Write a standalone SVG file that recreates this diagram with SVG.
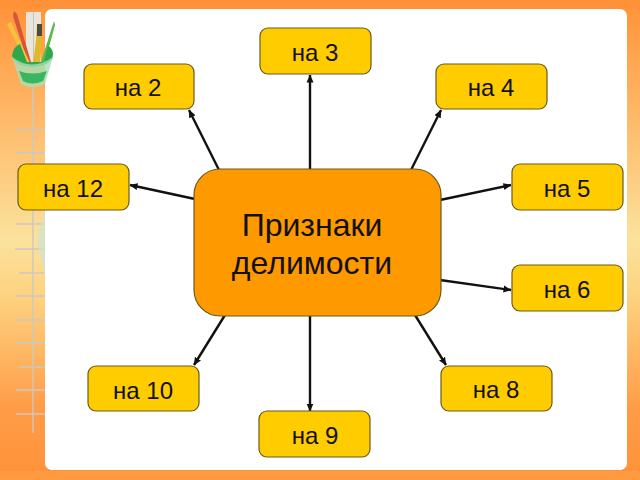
<svg xmlns="http://www.w3.org/2000/svg" width="640" height="480" viewBox="0 0 640 480">
<style>
.n{fill:#ffcc00;stroke:#6b5a1e;stroke-width:1.2}
.t{font-family:"Liberation Sans",Arial,sans-serif;font-size:24px;fill:#111;text-anchor:middle}
.c{stroke:#111;stroke-width:2.4;fill:none;marker-end:url(#a)}
.r{stroke:#cbc8c4;stroke-width:1.4;fill:none}
</style>
<defs>
<linearGradient id="bg" x1="0" y1="0" x2="0" y2="1">
<stop offset="0" stop-color="#ff9238"/><stop offset="0.12" stop-color="#ffa550"/><stop offset="0.5" stop-color="#fbe29c"/><stop offset="0.62" stop-color="#fdd27f"/><stop offset="0.85" stop-color="#ff9c48"/><stop offset="1" stop-color="#ff9238"/>
</linearGradient>
<marker id="a" markerWidth="9" markerHeight="8" refX="7.500" refY="4" orient="auto" markerUnits="userSpaceOnUse"><path d="M0 0.500L8 4L0 7.500Z" fill="#111"/></marker>
</defs>
<rect width="640" height="480" fill="url(#bg)"/>
<rect x="0" y="0" width="640" height="9" fill="#ff9238"/>
<rect x="0" y="471" width="640" height="9" fill="#ff9a40"/>
<g id="ruler">
<path class="r" d="M33 88V433M16 130H45M16 153H45M16 177H45M16 224H45M15 249H45M19 273H45M16 296H45M16 320H45M16 343H45M20 367H45M16 390H45M16 414H45"/>
</g>
<path d="M45 210L37 240L45 275Z" fill="#cfe3cc" opacity="0.8"/>
<rect x="45" y="9" width="582" height="461" rx="7" fill="#fff"/>
<g id="cup">
<path d="M26 12H41V62H26Z" fill="#e9e5da"/>
<path d="M33.500 12V62" stroke="#c9c5b8" stroke-width="1"/>
<path d="M14 11L17 14L31 62L28 63L13 16Z" fill="#d8553a"/>
<path d="M7 24L11 22L30 63L27 64Z" fill="#f5c33b"/>
<path d="M37 24H42V40L40 64H33L36 40Z" fill="#e3b72a"/>
<rect x="37" y="24" width="5" height="12" fill="#4a4a40"/>
<path d="M54 21L55 25L45 62L41 62Z" fill="#58b848"/>
<path d="M12 55Q14 46 20 44L27 62H44L48 46Q53 48 53 55Q52 66 32 67Q14 66 12 55Z" fill="#2fa84a"/>
<path d="M12 57Q32 72 53 57L45 84Q32 91 21 84Z" fill="#a6e0b8" opacity="0.8"/>
<path d="M19 71Q32 76 47 71L43 81Q32 86 23 81Z" fill="#3ab560"/>
</g>
<g id="connectors">
<path class="c" d="M310 170V75"/>
<path class="c" d="M219 170L189 110"/>
<path class="c" d="M411 170L441 110"/>
<path class="c" d="M195 199L130 185"/>
<path class="c" d="M440 200L511 185"/>
<path class="c" d="M440 280L511 290"/>
<path class="c" d="M225 315L194 365"/>
<path class="c" d="M310 315V411"/>
<path class="c" d="M415 315L446 365"/>
</g>
<g id="n3"><rect class="n" x="260" y="28" width="111" height="46" rx="8"/><text class="t" x="315" y="61">на 3</text></g>
<g id="n2"><rect class="n" x="84" y="64" width="110" height="45" rx="8"/><text class="t" x="138" y="96">на 2</text></g>
<g id="n4"><rect class="n" x="436" y="64" width="111" height="45" rx="8"/><text class="t" x="491" y="96">на 4</text></g>
<g id="n12"><rect class="n" x="18" y="164" width="111" height="46" rx="8"/><text class="t" x="73" y="197">на 12</text></g>
<g id="n5"><rect class="n" x="512" y="164" width="111" height="46" rx="8"/><text class="t" x="567" y="197">на 5</text></g>
<g id="n6"><rect class="n" x="512" y="265" width="111" height="46" rx="8"/><text class="t" x="567" y="298">на 6</text></g>
<g id="n10"><rect class="n" x="88" y="366" width="111" height="45" rx="8"/><text class="t" x="143" y="399">на 10</text></g>
<g id="n8"><rect class="n" x="441" y="366" width="111" height="45" rx="8"/><text class="t" x="496" y="398">на 8</text></g>
<g id="n9"><rect class="n" x="259" y="411" width="111" height="46" rx="8"/><text class="t" x="315" y="444">на 9</text></g>
<g id="center"><rect x="194" y="169" width="247" height="147" rx="26" fill="#ff9900" stroke="#6b5a1e" stroke-width="1.2"/>
<text class="t" style="font-size:32px" x="312" y="236">Признаки</text><text class="t" style="font-size:32px" x="312" y="274">делимости</text></g>
</svg>
